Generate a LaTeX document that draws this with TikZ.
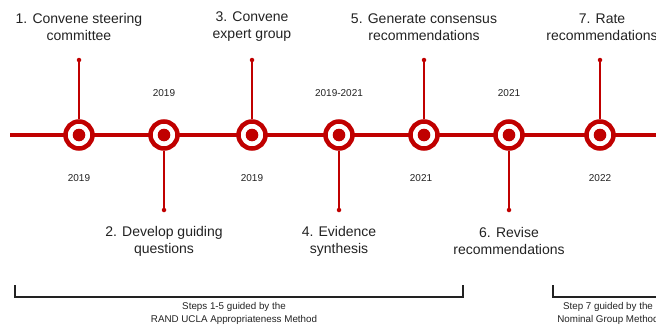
\documentclass[tikz,border=0pt]{standalone}
\usepackage{fontspec}
\setmainfont{Liberation Sans}
\definecolor{tred}{HTML}{C00000}
\definecolor{ttext}{HTML}{222222}
\begin{document}
\begin{tikzpicture}[x=1pt,y=-1pt,
  ring/.style={circle, draw=tred, line width=4.5pt, fill=white, minimum size=27pt, inner sep=0pt,
    path picture={\fill[tred] (path picture bounding box.center) circle (6.3pt);}},
  tipdot/.style={circle, fill=tred, minimum size=4.5pt, inner sep=0pt},
  stem/.style={draw=tred, line width=1.6pt},
  steplabel/.style={align=center, text=ttext, font=\fontsize{14}{17}\selectfont},
  yearlabel/.style={text=ttext, font=\fontsize{10}{12}\selectfont},
  bracketlabel/.style={align=center, text=ttext, font=\fontsize{9.8}{13}\selectfont},
  bracket/.style={draw=ttext, line width=1.1pt}
]
\useasboundingbox (0,0) rectangle (656,324);
\coordinate (lstart) at (10,135);
\coordinate (lend) at (660,135);
\draw[tred, line width=4.2pt] (lstart) -- (lend);

% rings
\node[ring] (c1) at (79,135) {};
\node[ring] (c2) at (164,135) {};
\node[ring] (c3) at (252,135) {};
\node[ring] (c4) at (339,135) {};
\node[ring] (c5) at (424,135) {};
\node[ring] (c6) at (509,135) {};
\node[ring] (c7) at (600,135) {};

% stem tips
\node[tipdot] (t1) at (79,60) {};
\node[tipdot] (t2) at (164,210) {};
\node[tipdot] (t3) at (252,60) {};
\node[tipdot] (t4) at (339,210) {};
\node[tipdot] (t5) at (424,60) {};
\node[tipdot] (t6) at (509,210) {};
\node[tipdot] (t7) at (600,60) {};

\foreach \i in {1,3,5,7} {\draw[stem] (c\i.north) -- (t\i.center);}
\foreach \i in {2,4,6} {\draw[stem] (c\i.south) -- (t\i.center);}

% step labels
\node[steplabel] (s1) at (79,27) {1. Convene steering\\committee};
\node[steplabel] (s3) at (252,27) {3. Convene\\expert group};
\node[steplabel] (s5) at (424,27) {5. Generate consensus\\recommendations};
\node[steplabel] (s7) at (602,27) {7. Rate\\recommendations};
\node[steplabel] (s2) at (164,241) {2. Develop guiding\\questions};
\node[steplabel] (s4) at (339,241) {4. Evidence\\synthesis};
\node[steplabel] (s6) at (509,241) {6. Revise\\recommendations};

% years
\node[yearlabel] (y1) at (79,178) {2019};
\node[yearlabel] (y2) at (164,93) {2019};
\node[yearlabel] (y3) at (252,178) {2019};
\node[yearlabel] (y4) at (339,93) {2019-2021};
\node[yearlabel] (y5) at (421,178) {2021};
\node[yearlabel] (y6) at (509,93) {2021};
\node[yearlabel] (y7) at (600,178) {2022};

% brackets
\coordinate (b1a) at (15,285);
\coordinate (b1b) at (15,297);
\coordinate (b1c) at (463,297);
\coordinate (b1d) at (463,285);
\draw[bracket] (b1a) -- (b1b) -- (b1c) -- (b1d);
\coordinate (b2a) at (553,285);
\coordinate (b2b) at (553,297);
\coordinate (b2c) at (670,297);
\draw[bracket] (b2a) -- (b2b) -- (b2c);

\node[bracketlabel] (bl1) at (234,313.5) {Steps 1-5 guided by the\\RAND UCLA Appropriateness Method};
\node[bracketlabel] (bl2) at (608,313.5) {Step 7 guided by the\\Nominal Group Method};
\end{tikzpicture}
\end{document}
